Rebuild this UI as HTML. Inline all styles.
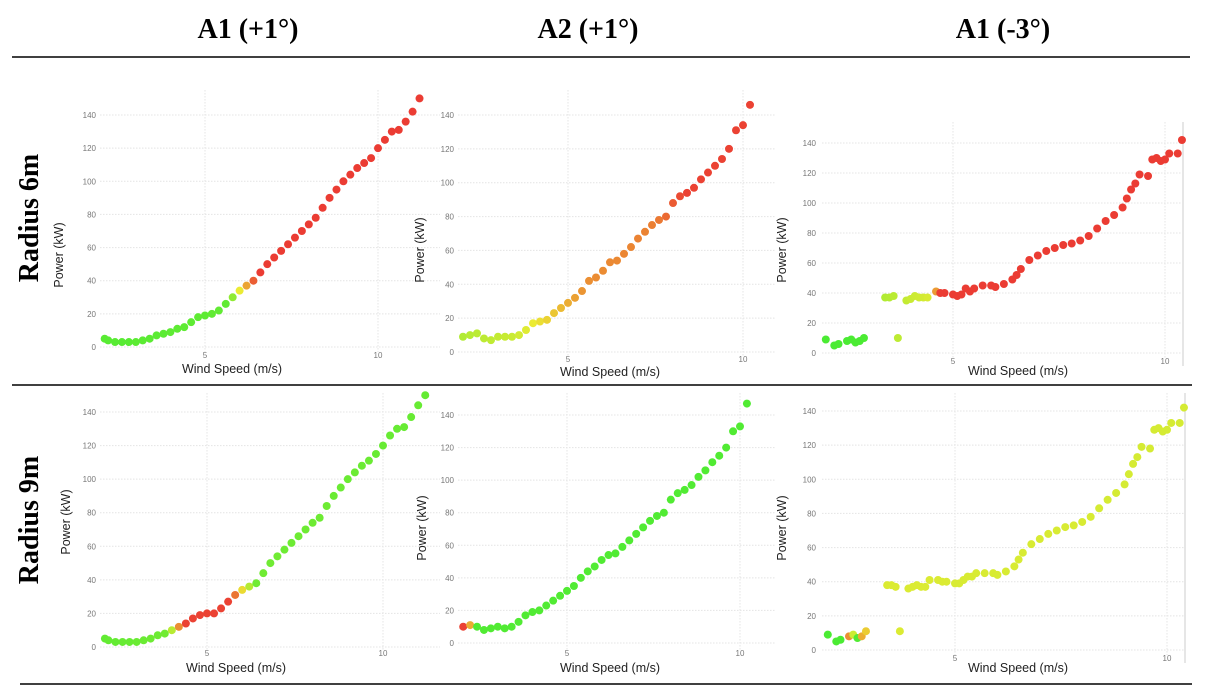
<!DOCTYPE html>
<html><head><meta charset="utf-8">
<style>
html,body{margin:0;padding:0;background:#fff;}
svg{display:block;font-family:"Liberation Sans",sans-serif;}
.hdr{font-family:"Liberation Serif",serif;font-weight:bold;font-size:28px;fill:#000;}
.tick{font-size:8px;fill:#777;}
.ttl{font-size:12.5px;fill:#222;}
.grid{stroke:#e4e4e4;stroke-width:1;stroke-dasharray:1.5 1.5;}
</style></head>
<body>
<svg id="fig" width="1208" height="688" viewBox="0 0 1208 688">
<text class="hdr" x="248" y="38" text-anchor="middle">A1 (+1°)</text>
<text class="hdr" x="588" y="38" text-anchor="middle">A2 (+1°)</text>
<text class="hdr" x="1003" y="38" text-anchor="middle">A1 (-3°)</text>
<line x1="12" y1="57" x2="1190" y2="57" stroke="#000" stroke-width="1.5"/>
<line x1="12" y1="385" x2="1192" y2="385" stroke="#000" stroke-width="1.5"/>
<line x1="20" y1="684" x2="1192" y2="684" stroke="#000" stroke-width="1.5"/>
<text class="hdr" transform="translate(38,218) rotate(-90)" text-anchor="middle" font-size="28">Radius 6m</text>
<text class="hdr" transform="translate(38,520) rotate(-90)" text-anchor="middle" font-size="28">Radius 9m</text>
</svg>
<script>
// ---- data ----
const yTicks = [0,20,40,60,80,100,120,140];
const xTicks = [5,10];
const a1SpeedR6 = [2.1,2.2,2.4,2.6,2.8,3.0,3.2,3.4,3.6,3.8,4.0,4.2,4.4,4.6,4.8,5.0,5.2,5.4,5.6,5.8,6.0,6.2,6.4,6.6,6.8,7.0,7.2,7.4,7.6,7.8,8.0,8.2,8.4,8.6,8.8,9.0,9.2,9.4,9.6,9.8,10.0,10.2,10.4,10.6,10.8,11.0,11.2];
const a1PowerR6 = [5,4,3,3,3,3,4,5,7,8,9,11,12,15,18,19,20,22,26,30,34,37,40,45,50,54,58,62,66,70,74,78,84,90,95,100,104,108,111,114,120,125,130,131,136,142,150];
const a1SpeedR9 = [2.1,2.2,2.4,2.6,2.8,3.0,3.2,3.4,3.6,3.8,4.0,4.2,4.4,4.6,4.8,5.0,5.2,5.4,5.6,5.8,6.0,6.2,6.4,6.6,6.8,7.0,7.2,7.4,7.6,7.8,8.0,8.2,8.4,8.6,8.8,9.0,9.2,9.4,9.6,9.8,10.0,10.2,10.4,10.6,10.8,11.0,11.2];
const a1PowerR9 = [5,4,3,3,3,3,4,5,7,8,10,12,14,17,19,20,20,23,27,31,34,36,38,44,50,54,58,62,66,70,74,77,84,90,95,100,104,108,111,115,120,126,130,131,137,144,150];
const a2SpeedR6 = [2.0,2.2,2.4,2.6,2.8,3.0,3.2,3.4,3.6,3.8,4.0,4.2,4.4,4.6,4.8,5.0,5.2,5.4,5.6,5.8,6.0,6.2,6.4,6.6,6.8,7.0,7.2,7.4,7.6,7.8,8.0,8.2,8.4,8.6,8.8,9.0,9.2,9.4,9.6,9.8,10.0,10.2];
const a2PowerR6 = [9,10,11,8,7,9,9,9,10,13,17,18,19,23,26,29,32,36,42,44,48,53,54,58,62,67,71,75,78,80,88,92,94,97,102,106,110,114,120,131,134,146];
const a2SpeedR9 = [2.0,2.2,2.4,2.6,2.8,3.0,3.2,3.4,3.6,3.8,4.0,4.2,4.4,4.6,4.8,5.0,5.2,5.4,5.6,5.8,6.0,6.2,6.4,6.6,6.8,7.0,7.2,7.4,7.6,7.8,8.0,8.2,8.4,8.6,8.8,9.0,9.2,9.4,9.6,9.8,10.0,10.2];
const a2PowerR9 = [10,11,10,8,9,10,9,10,13,17,19,20,23,26,29,32,35,40,44,47,51,54,55,59,63,67,71,75,78,80,88,92,94,97,102,106,111,115,120,130,133,147];
const a3Speed = [2.0,2.2,2.3,2.5,2.6,2.7,2.8,2.9,3.4,3.5,3.6,3.7,3.9,4.0,4.1,4.2,4.3,4.4,4.6,4.7,4.8,5.0,5.1,5.2,5.3,5.4,5.5,5.7,5.9,6.0,6.2,6.4,6.5,6.6,6.8,7.0,7.2,7.4,7.6,7.8,8.0,8.2,8.4,8.6,8.8,9.0,9.1,9.2,9.3,9.4,9.6,9.7,9.8,9.9,10.0,10.1,10.3,10.4];
const a3PowerR6 = [9,5,6,8,9,7,8,10,37,37,38,10,35,36,38,37,37,37,41,40,40,39,38,39,43,41,43,45,45,44,46,49,52,56,62,65,68,70,72,73,75,78,83,88,92,97,103,109,113,119,118,129,130,128,129,133,133,142];
const a3PowerR9 = [9,5,6,8,9,7,8,11,38,38,37,11,36,37,38,37,37,41,41,40,40,39,39,41,43,43,45,45,45,44,46,49,53,57,62,65,68,70,72,73,75,78,83,88,92,97,103,109,113,119,118,129,130,128,129,133,133,142];
// colour stops: [wind speed, hue]
const hueA1R6 = [[0,110],[5.7,105],[6.0,60],[6.3,25],[6.5,3],[20,3]];
const hueA1R9 = [[0,110],[3.9,100],[4.1,55],[4.3,5],[5.7,5],[6.0,55],[6.4,100],[20,110]];
const hueA2R6 = [[0,90],[3.5,70],[4.5,50],[5.5,30],[7.5,25],[8.3,5],[20,3]];
const hueA2R9 = [[0,5],[2.15,5],[2.3,110],[20,110]];
const hueA3R6 = [[0,112],[3.1,112],[3.3,80],[4.5,65],[4.7,3],[20,3]];
const hueA3R9 = [[0,112],[2.4,112],[2.5,30],[2.7,110],[2.8,40],[3.0,60],[3.3,65],[20,70]];
// ---- drawing ----
const NS="http://www.w3.org/2000/svg";
const fig=document.getElementById('fig');
function mk(tag,attrs,parent){const e=document.createElementNS(NS,tag);for(const k in attrs)e.setAttribute(k,attrs[k]);(parent||fig).appendChild(e);return e;}
function hueAt(stops,s){for(let i=1;i<stops.length;i++){if(s<=stops[i][0]){const a=stops[i-1],b=stops[i];const t=(s-a[0])/(b[0]-a[0]);return a[1]+(b[1]-a[1])*t;}}return stops[stops.length-1][1];}
const panels=[
 {id:'a1-r6',sp:a1SpeedR6,pw:a1PowerR6,hue:hueA1R6,x5:205,x10:378,y0:347,y140:115,L:100,R:440,T:90,B:352,tickR:96,pX:63,pY:255,wX:232,wY:373},
 {id:'a2-r6',sp:a2SpeedR6,pw:a2PowerR6,hue:hueA2R6,x5:568,x10:743,y0:352,y140:115,L:458,R:775,T:90,B:356,tickR:454,pX:424,pY:250,wX:610,wY:376},
 {id:'a1m3-r6',sp:a3Speed,pw:a3PowerR6,hue:hueA3R6,x5:953,x10:1165,y0:353,y140:143,L:822,R:1183,T:122,B:358,tickR:816,pX:786,pY:250,wX:1018,wY:375},
 {id:'a1-r9',sp:a1SpeedR9,pw:a1PowerR9,hue:hueA1R9,x5:207,x10:383,y0:647,y140:412,L:100,R:440,T:393,B:650,tickR:96,pX:70,pY:522,wX:236,wY:672},
 {id:'a2-r9',sp:a2SpeedR9,pw:a2PowerR9,hue:hueA2R9,x5:567,x10:740,y0:643,y140:415,L:458,R:775,T:393,B:650,tickR:454,pX:426,pY:528,wX:610,wY:672},
 {id:'a1m3-r9',sp:a3Speed,pw:a3PowerR9,hue:hueA3R9,x5:955,x10:1167,y0:650,y140:411,L:822,R:1185,T:393,B:655,tickR:816,pX:786,pY:528,wX:1018,wY:672}
];
panels.forEach(p=>{
 const g=mk('g',{});
 
 
 const xs=v=>p.x5+(v-5)*(p.x10-p.x5)/5;
 const ys=v=>p.y0-(v)*(p.y0-p.y140)/140;
 yTicks.forEach(t=>{
  const y=ys(t);
  const ln=mk('line',{x1:p.L,x2:p.R,y1:y,y2:y,class:'grid'},g);
  
  
  const tx=mk('text',{x:p.tickR,y:y+3,'text-anchor':'end',class:'tick'},g);
  tx.textContent=t;
  
  
 });
 xTicks.forEach(t=>{
  const x=xs(t);
  const ln=mk('line',{x1:x,x2:x,y1:p.T,y2:p.B,class:'grid'},g);
  
  
  const tx=mk('text',{x:x,y:p.B+6,'text-anchor':'middle',class:'tick'},g);
  tx.textContent=t;
  
  
 });
 if(p.id.indexOf('a1m3')===0){
  const ln=mk('line',{x1:p.R,x2:p.R,y1:p.T,y2:p.B+8,stroke:'#e6e6e6','stroke-width':2},g);
  
  
 }
 for(let i=0;i<p.sp.length;i++){
  const h=hueAt(p.hue,p.sp[i]);
  const c=mk('circle',{cx:xs(p.sp[i]),cy:ys(p.pw[i]),r:4,fill:'hsl('+h.toFixed(0)+',82%,56%)'},g);
  
  
 }
 const pt=mk('text',{transform:'translate('+p.pX+','+p.pY+') rotate(-90)','text-anchor':'middle',class:'ttl'},g);
 pt.textContent='Power (kW)';
 
 
 const wt=mk('text',{x:p.wX,y:p.wY,'text-anchor':'middle',class:'ttl'},g);
 wt.textContent='Wind Speed (m/s)';
 
 
});
</script>
</body></html>
